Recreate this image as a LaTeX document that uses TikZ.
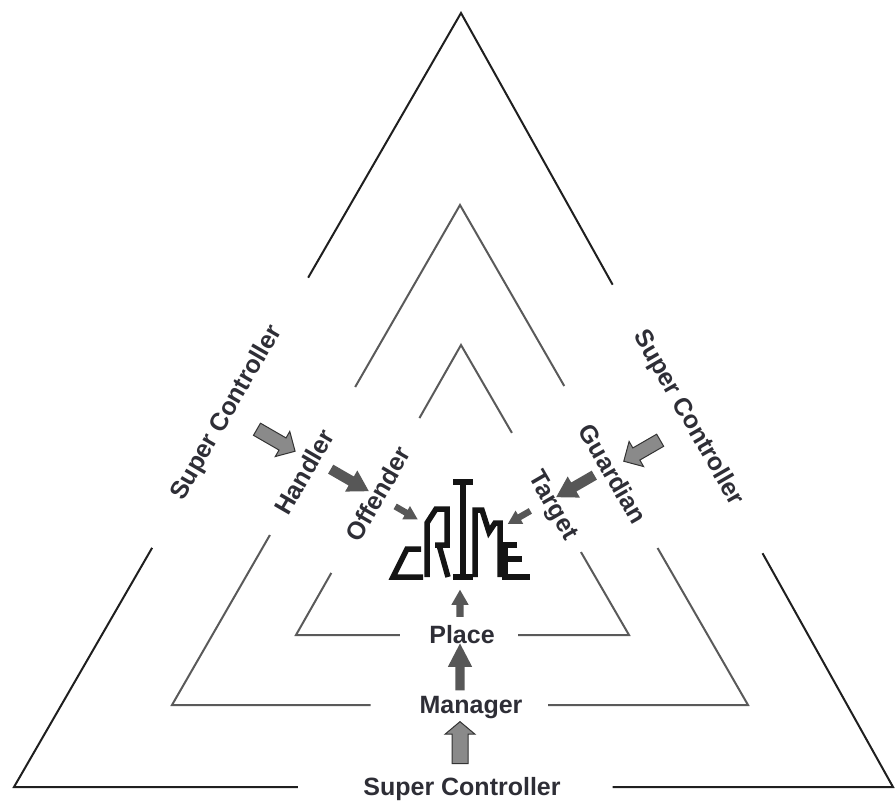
\documentclass[tikz,border=0pt]{standalone}
\usepackage{fontspec}
\setmainfont{Liberation Sans}
\usetikzlibrary{calc,shapes.arrows}
\definecolor{inkgray}{HTML}{2E2E36}
\definecolor{sidegray}{HTML}{5A5A5A}
\definecolor{arrowdark}{HTML}{575757}
\definecolor{arrowlight}{HTML}{8A8A8A}

\begin{document}
\begin{tikzpicture}[
  x=1pt, y=1pt,
  % Styles
  outerline/.style={draw=black!88, line width=2pt, line join=miter},
  innerline/.style={draw=sidegray, line width=2pt, line join=miter},
  lbl/.style={font=\bfseries\fontsize{25}{30}\selectfont, text=inkgray, inner sep=0pt},
  blockarrow/.style n args={4}{single arrow, inner xsep=0pt, inner ysep=#2,
    single arrow head extend=#3, minimum height=#1, minimum width=0pt,
    single arrow tip angle=#4},
  darkarrow/.style={fill=arrowdark, draw=none},
  lightarrow/.style={fill=arrowlight, draw=black!80, line width=1pt},
  crimeline/.style={draw=black!92, line width=5.5pt, line join=miter},
]
\useasboundingbox (0,0) rectangle (896,-802);

% === Outer triangle ===
\coordinate (oA) at (461,-13);
\coordinate (oL) at (14,-787);
\coordinate (oR) at (893,-787);
\draw[outerline] ($(oA)!0.342!(oL)$) -- (oA) -- ($(oA)!0.351!(oR)$);
\draw[outerline] ($(oA)!0.691!(oL)$) -- (oL) -- ($(oL)!0.323!(oR)$);
\draw[outerline] ($(oA)!0.698!(oR)$) -- (oR) -- ($(oL)!0.681!(oR)$);

% === Middle triangle ===
\coordinate (mA) at (460,-205);
\coordinate (mL) at (172,-705);
\coordinate (mR) at (748,-705);
\draw[innerline] ($(mA)!0.364!(mL)$) -- (mA) -- ($(mA)!0.362!(mR)$);
\draw[innerline] ($(mA)!0.66!(mL)$) -- (mL) -- ($(mL)!0.345!(mR)$);
\draw[innerline] ($(mA)!0.686!(mR)$) -- (mR) -- ($(mL)!0.653!(mR)$);

% === Inner triangle ===
\coordinate (iA) at (461,-345);
\coordinate (iL) at (296,-635);
\coordinate (iR) at (629,-635);
\draw[innerline] ($(iA)!0.252!(iL)$) -- (iA) -- ($(iA)!0.303!(iR)$);
\draw[innerline] ($(iA)!0.786!(iL)$) -- (iL) -- ($(iL)!0.312!(iR)$);
\draw[innerline] ($(iA)!0.714!(iR)$) -- (iR) -- ($(iL)!0.667!(iR)$);

% === Side labels ===
\node[lbl, rotate=60] (scleft) at (227,-413) {Super Controller};
\node[lbl, rotate=60] (handler) at (304,-472) {Handler};
\node[lbl, rotate=60] (offender) at (378,-494) {Offender};
\node[lbl, rotate=-60] (scright) at (688,-418) {Super Controller};
\node[lbl, rotate=-60] (guardian) at (613,-474) {Guardian};
\node[lbl, rotate=-60] (target) at (552,-506) {Target};

% === Bottom labels ===
\node[lbl, anchor=base] (place) at (462,-643) {Place};
\node[lbl, anchor=base] (manager) at (471,-713) {Manager};
\node[lbl, anchor=base] (scbottom) at (462,-795) {Super Controller};

% === Arrows ===
\node[blockarrow={44pt}{6.5pt}{7.5pt}{90}, lightarrow, rotate=-30] (arrsh) at (273,-438.5) {};
\node[blockarrow={44pt}{5pt}{7pt}{62}, darkarrow, rotate=-30] (arrho) at (346,-478) {};
\node[blockarrow={26pt}{3pt}{4.5pt}{60}, darkarrow, rotate=-30] (arroc) at (404,-511.5) {};
\node[blockarrow={42pt}{6.5pt}{7.5pt}{90}, lightarrow, rotate=210] (arrsg) at (645,-449) {};
\node[blockarrow={44pt}{5pt}{7pt}{62}, darkarrow, rotate=210] (arrgt) at (579,-484) {};
\node[blockarrow={26pt}{3pt}{4.5pt}{60}, darkarrow, rotate=210] (arrtc) at (521.5,-516) {};
\node[blockarrow={42pt}{7.5pt}{7pt}{100}, lightarrow, rotate=90] (arrsm) at (460,-746) {};
\node[blockarrow={47pt}{4.5pt}{7.5pt}{55}, darkarrow, rotate=90] (arrmp) at (460,-671.5) {};
\node[blockarrow={27pt}{3.5pt}{5pt}{60}, darkarrow, rotate=90] (arrpc) at (460,-606.5) {};

% === CRIME logo ===
\draw[crimeline] (421,-549) -- (407,-549) -- (393,-577) -- (423,-577);
\draw[crimeline] (427,-577) -- (427,-523) -- (436,-509) -- (447,-509) -- (447,-545) -- (435,-545);
\draw[crimeline] (439,-545) -- (448,-577);
\draw[crimeline] (453,-482) -- (473,-482);
\draw[crimeline] (463,-482) -- (463,-577);
\draw[crimeline] (453,-577) -- (473,-577);
\draw[crimeline] (475,-577) -- (475,-510) -- (482,-510) -- (489,-532) -- (495,-523) -- (500,-523) -- (500,-577);
\draw[crimeline] (517,-545) -- (505,-545) -- (505,-577) -- (530,-577);
\draw[crimeline] (505,-559) -- (522,-559);

\end{tikzpicture}
\end{document}
